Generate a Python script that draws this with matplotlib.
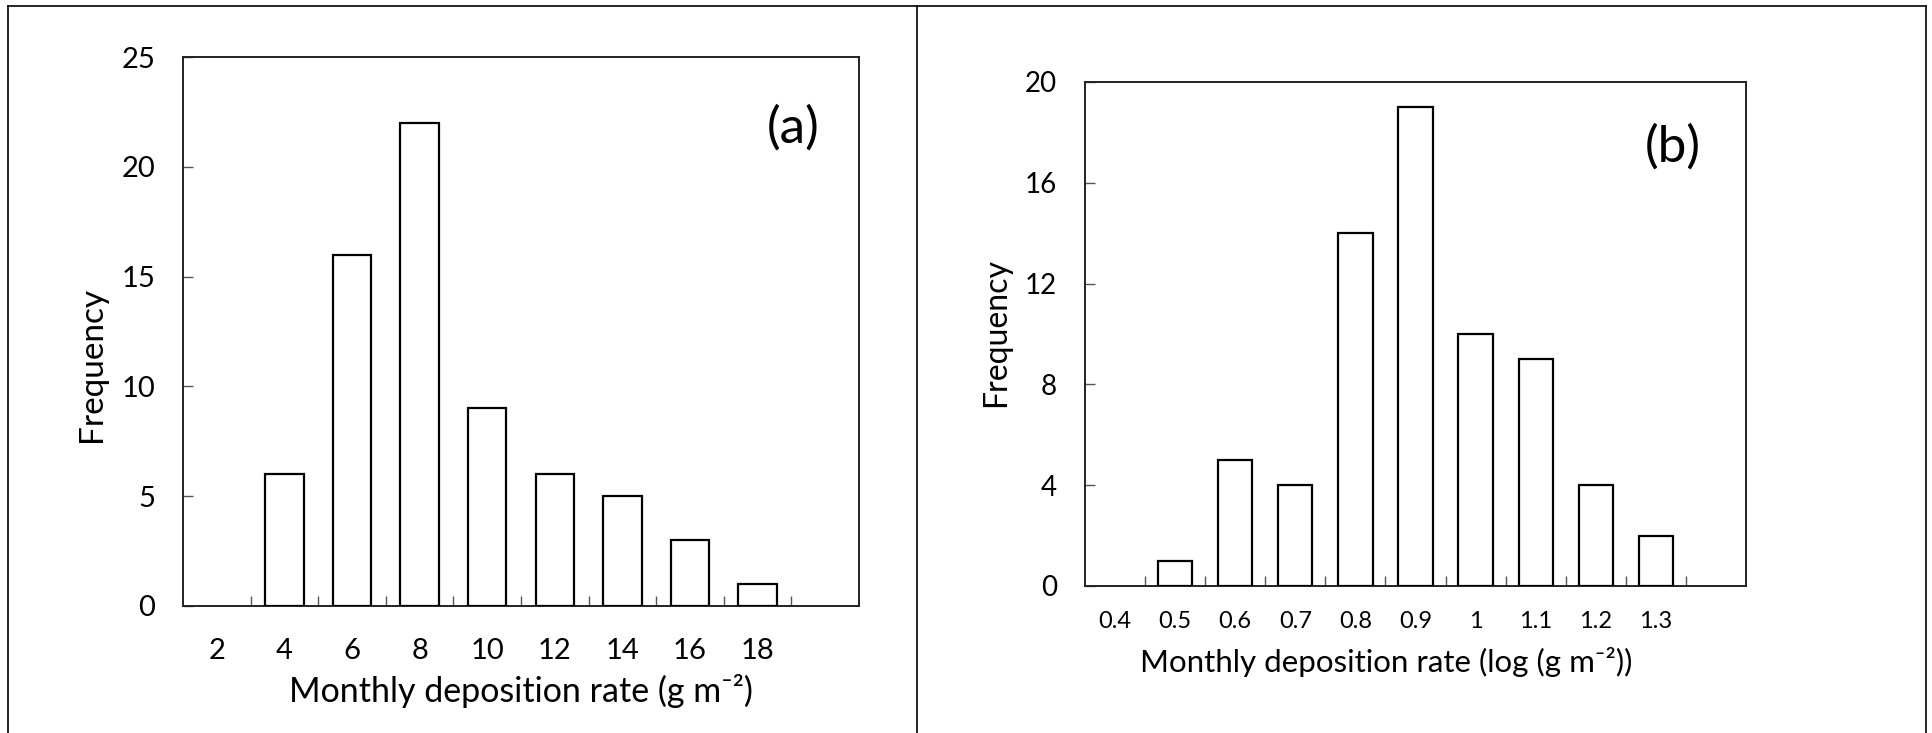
import matplotlib.pyplot as plt
from matplotlib.lines import Line2D

plt.rcParams['font.family'] = ['Lato', 'DejaVu Sans']

# panel (a) data
bins_a = ['2', '4', '6', '8', '10', '12', '14', '16', '18']
freq_a = [0, 6, 16, 22, 9, 6, 5, 3, 1]
yticks_a = [0, 5, 10, 15, 20, 25]

# panel (b) data
bins_b = ['0.4', '0.5', '0.6', '0.7', '0.8', '0.9', '1', '1.1', '1.2', '1.3']
freq_b = [0, 1, 5, 4, 14, 19, 10, 9, 4, 2]
yticks_b = [0, 4, 8, 12, 16, 20]

W, H = 1933, 733
fig = plt.figure(figsize=(W / 100, H / 100), dpi=100)
fig.patch.set_facecolor('white')


def px_axes(l, t, r, b):
    return fig.add_axes([l / W, 1 - b / H, (r - l) / W, (b - t) / H])


def hist_panel(ax, labels, freq, yticks, xtick_fs, ytick_fs, xlabel, xlab_fs, ylab_fs, tag,
               xlab_x, xlab_y, ylab_x, ylab_y, tag_x, tag_y, xpad):
    n = len(labels)
    x = list(range(n))
    lws = [0 if f == 0 else 1.6 for f in freq]
    ax.bar(x, freq, width=0.57, color='white', edgecolor='black', linewidth=lws, zorder=3)
    ax.set_xlim(-0.5, n + 0.5)
    ax.set_ylim(yticks[0], yticks[-1])
    ax.set_yticks(yticks)
    ax.set_xticks(x)
    ax.set_xticklabels(labels)
    ax.set_xticks([i + 0.5 for i in range(n)], minor=True)
    ax.tick_params(axis='x', which='major', length=0, pad=xpad, labelsize=xtick_fs)
    ax.tick_params(axis='x', which='minor', direction='in', length=7, width=1, color='#555555')
    ax.tick_params(axis='y', direction='in', length=7, width=1, color='#555555',
                   pad=20, labelsize=ytick_fs)
    for s in ax.spines.values():
        s.set_linewidth(1.4)
        s.set_color('#222222')
    ax.set_xlabel(xlabel, fontsize=xlab_fs, va='center')
    ax.xaxis.set_label_coords(xlab_x, xlab_y)
    ax.set_ylabel('Frequency', fontsize=ylab_fs, va='center')
    ax.yaxis.set_label_coords(ylab_x, ylab_y)
    ax.text(tag_x, tag_y, tag, transform=ax.transAxes, fontsize=37, ha='center', va='center')


ax1 = px_axes(183, 57, 859, 606)
hist_panel(ax1, bins_a, freq_a, yticks_a, 21, 21, 'Monthly deposition rate (g m\u207b\u00b2)',
           24.5, 24, '(a)', 0.5, -0.155, -0.135, 0.44, 0.9025, 0.87, 23)

ax2 = px_axes(1085, 82, 1746, 586)
hist_panel(ax2, bins_b, freq_b, yticks_b, 17, 20,
           'Monthly deposition rate (log (g m\u207b\u00b2))',
           22.5, 23, '(b)', 0.455, -0.151, -0.135, 0.503, 0.89, 0.871, 18)

# frame around the two panels
frame = dict(color='black', linewidth=1.2, transform=fig.transFigure)
xl, xr, xm, yt = 8 / W, 1926 / W, 917 / W, 1 - 6 / H
fig.add_artist(Line2D([xl, xr], [yt, yt], **frame))
fig.add_artist(Line2D([xl, xl], [0, yt], **frame))
fig.add_artist(Line2D([xr, xr], [0, yt], **frame))
fig.add_artist(Line2D([xm, xm], [0, yt], **frame))

fig.savefig('out.png', dpi=100)
